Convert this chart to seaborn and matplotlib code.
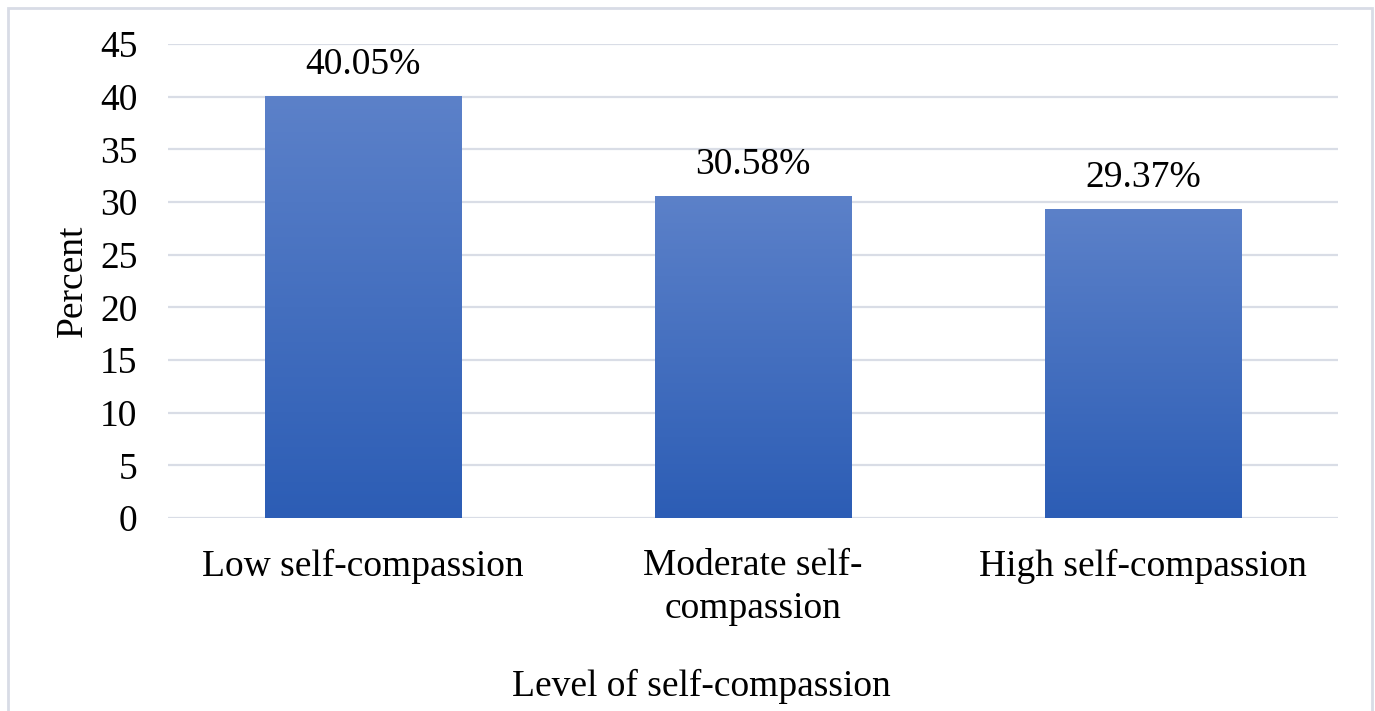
import matplotlib
matplotlib.use("Agg")
import matplotlib.pyplot as plt
import seaborn as sns
import numpy as np
import pandas as pd
from matplotlib.colors import LinearSegmentedColormap
from matplotlib.patches import Rectangle

categories = ["Low self-compassion", "Moderate self-\ncompassion", "High self-compassion"]
values = [40.05, 30.58, 29.37]
value_labels = ["40.05%", "30.58%", "29.37%"]
yticks = [0, 5, 10, 15, 20, 25, 30, 35, 40, 45]

sns.set_theme(style="white")
plt.rcParams['font.family'] = ['Liberation Serif', 'DejaVu Serif']

df = pd.DataFrame({"cat": categories, "val": values})

fig = plt.figure(figsize=(13.75, 7.11), dpi=100)
ax = fig.add_axes([168/1375, 1 - 518/711, (1338-168)/1375, (518-44)/711])

sns.barplot(data=df, x="cat", y="val", color="#3F6CC0", width=0.503, ax=ax,
            saturation=1, edgecolor="none")

ax.set_ylim(0, 45)
ax.set_xlim(-0.5, 2.5)
ax.set_yticks(yticks)
ax.set_yticklabels([str(t) for t in yticks], fontsize=27, color="black")
ax.tick_params(axis='y', length=0, pad=22)
ax.tick_params(axis='x', length=0, pad=22, labelsize=27, labelcolor="black")
for lbl in ax.get_xticklabels():
    lbl.set_linespacing(1.3)
ax.yaxis.grid(True, color="#D9DDE6", linewidth=1.6)
ax.set_axisbelow(True)
for s in ax.spines.values():
    s.set_visible(False)

# gradient fill
cmap = LinearSegmentedColormap.from_list("g", ["#2C5DB5", "#5C81C9"])
grad = np.linspace(0, 1, 256).reshape(-1, 1)
for p in list(ax.patches):
    x0, y0 = p.get_x(), p.get_y()
    w, h = p.get_width(), p.get_height()
    im = ax.imshow(grad, cmap=cmap, aspect='auto', origin='lower',
                   extent=[x0, x0 + w, y0, y0 + h], zorder=p.get_zorder() + 0.1)
    im.set_clip_path(p)
ax.set_xlim(-0.5, 2.5)
ax.set_ylim(0, 45)

for i, (v, t) in enumerate(zip(values, value_labels)):
    ax.annotate(t, xy=(i, v), xytext=(0, 10), textcoords="offset points",
                ha="center", va="bottom", fontsize=27, color="black")

ax.set_ylabel("Percent", fontsize=27, color="black")
ax.yaxis.set_label_coords(-0.067, 0.5)
ax.set_xlabel("Level of self-compassion", fontsize=27, color="black")
ax.xaxis.set_label_coords(0.4556, -0.318)

fig.patches.append(Rectangle((8/1375, -0.01), (1372-8)/1375, 1 - 8/711 + 0.01,
                             transform=fig.transFigure, fill=False,
                             edgecolor="#D8DCE6", linewidth=2))

fig.savefig("out.png", dpi=100)
